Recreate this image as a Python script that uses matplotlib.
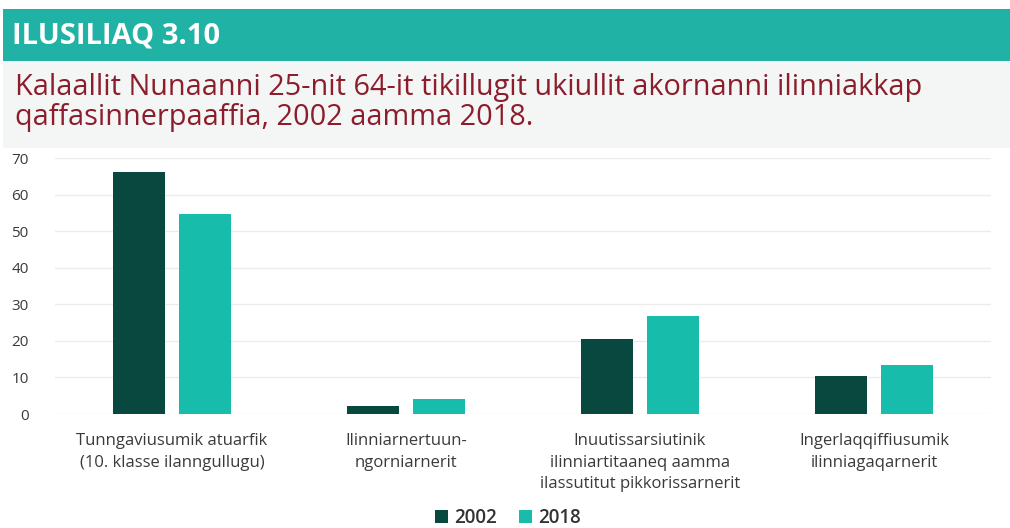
import matplotlib.pyplot as plt
import numpy as np
from matplotlib.patches import Rectangle

# data
categories = [
    "Tunngaviusumik atuarfik\n(10. klasse ilanngullugu)",
    "Ilinniarnertuun-\nngorniarnerit",
    "Inuutissarsiutinik\nilinniartitaaneq aamma\nilassutitut pikkorissarnerit",
    "Ingerlaqqiffiusumik\nilinniagaqarnerit",
]
values_2002 = [66.3, 2.1, 20.4, 10.5]
values_2018 = [54.6, 4.2, 26.9, 13.5]
y_ticks = [0, 10, 20, 30, 40, 50, 60, 70]

# colours
COLOR_2002 = '#08483f'
COLOR_2018 = '#17bcab'
BANNER_COLOR = '#20b2a4'
TITLE_BG = '#f4f6f5'
TITLE_COLOR = '#8c1d2c'
TEXT_COLOR = '#3a3a3a'
GRID_COLOR = '#ececec'

FONT = 'Open Sans'

W, H = 1010, 528
fig = plt.figure(figsize=(W / 100, H / 100), dpi=100)
fig.patch.set_facecolor('white')

# header banner and title background
fig.patches.append(Rectangle((3 / W, 1 - 61 / H), 1, 52 / H, transform=fig.transFigure,
                             facecolor=BANNER_COLOR, edgecolor='none', zorder=0))
fig.patches.append(Rectangle((3 / W, 1 - 148 / H), 1, 87 / H, transform=fig.transFigure,
                             facecolor=TITLE_BG, edgecolor='none', zorder=0))
fig.text(12 / W, 1 - 36 / H, "ILUSILIAQ 3.10", color='white', fontsize=21,
         fontweight='bold', family=FONT, va='center', ha='left')
fig.text(15 / W, 1 - 88 / H,
         "Kalaallit Nunaanni 25-nit 64-it tikillugit ukiullit akornanni ilinniakkap",
         color=TITLE_COLOR, fontsize=20.8, family=FONT, va='center', ha='left')
fig.text(15 / W, 1 - 118 / H, "qaffasinnerpaaffia, 2002 aamma 2018.",
         color=TITLE_COLOR, fontsize=20.8, family=FONT, va='center', ha='left')

# main chart
ax = fig.add_axes([55 / W, (H - 414) / H, 936 / W, 256 / H])
x = np.arange(len(categories))
bar_w = 0.222
offset = 0.141
ax.bar(x - offset, values_2002, width=bar_w, color=COLOR_2002, label='2002', zorder=3)
ax.bar(x + offset, values_2018, width=bar_w, color=COLOR_2018, label='2018', zorder=3)

ax.set_xlim(-0.5, 3.5)
ax.set_ylim(0, 70)
ax.set_yticks(y_ticks)
ax.set_xticks(x)
ax.set_xticklabels(categories, fontsize=12, family=FONT, color=TEXT_COLOR,
                   linespacing=1.45, va='top')
ax.tick_params(axis='x', length=0, pad=14)
ax.tick_params(axis='y', length=0, pad=19, labelsize=11, labelcolor=TEXT_COLOR)
for lbl in ax.get_yticklabels():
    lbl.set_family(FONT)
ax.grid(axis='y', color=GRID_COLOR, linewidth=1, zorder=0)
for s in ax.spines.values():
    s.set_visible(False)

leg = ax.legend(loc='center', bbox_to_anchor=(0.503, (H - 518) / H), bbox_transform=fig.transFigure,
                ncol=2, frameon=False, handlelength=0.65, handleheight=0.65,
                handletextpad=0.35, columnspacing=1.2,
                prop={'family': FONT, 'size': 13.5, 'weight': 'semibold'})
for t in leg.get_texts():
    t.set_color('#333333')

plt.savefig('out.png', dpi=100)
